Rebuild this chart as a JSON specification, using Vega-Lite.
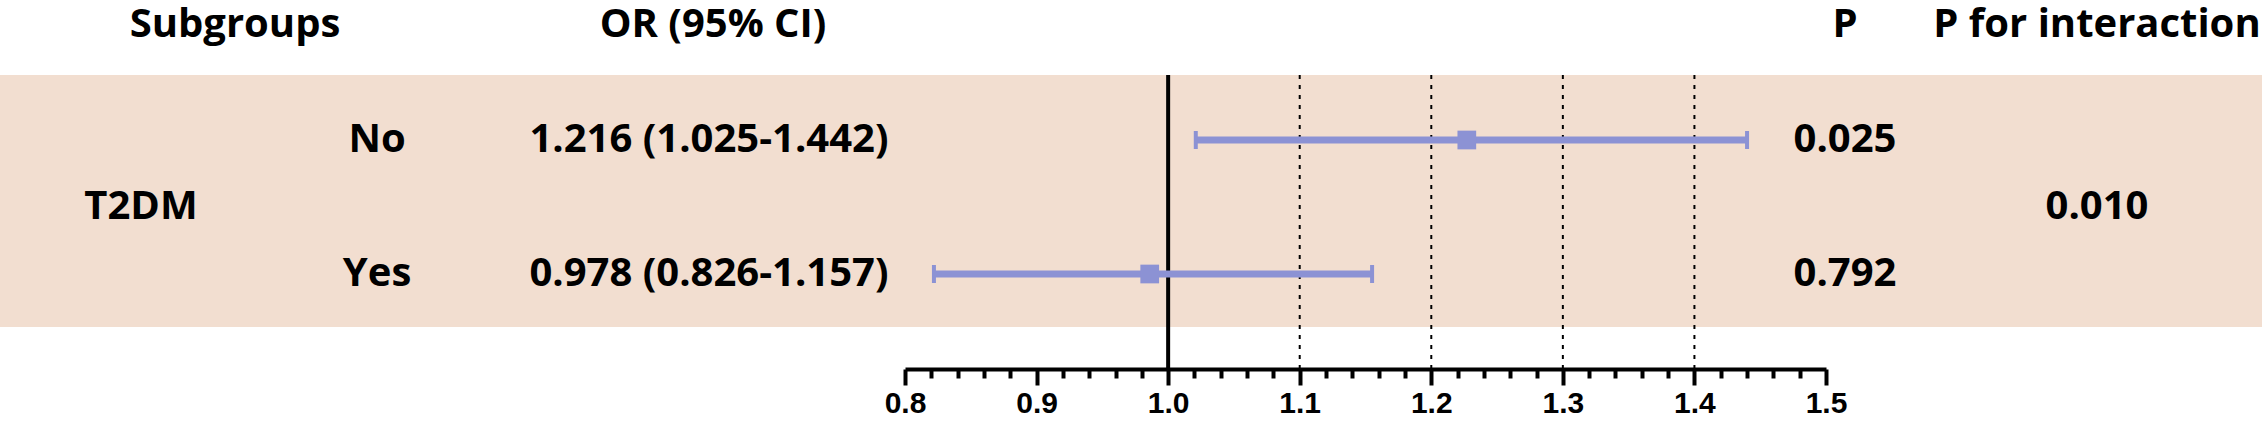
{
  "$schema": "https://vega.github.io/schema/vega-lite/v6.json",
  "padding": 0,
  "bounds": "flush",
  "spacing": 0,
  "background": "white",
  "config": {
    "view": {"stroke": null},
    "text": {"font": "Open Sans", "fontWeight": "bold", "fontSize": 40, "color": "#000000"}
  },
  "datasets": {
    "rows": [
      {"group": "T2DM", "sub": "No", "row": 1, "or_text": "1.216 (1.025-1.442)", "or": 1.227, "lo": 1.021, "hi": 1.44, "p": "0.025", "p_int": "0.010"},
      {"group": "T2DM", "sub": "Yes", "row": 2, "or_text": "0.978 (0.826-1.157)", "or": 0.986, "lo": 0.822, "hi": 1.155, "p": "0.792", "p_int": "0.010"}
    ],
    "headers": [
      {"col": "Subgroups", "level": "subgroups"},
      {"col": "OR (95% CI)", "level": "or"},
      {"col": "P", "level": "p"},
      {"col": "P for interaction", "level": "p_int"}
    ],
    "bands": [{"group": "T2DM", "top": 0.515, "bottom": 2.396}],
    "refs": [
      {"v": 1.0, "kind": "null"},
      {"v": 1.1, "kind": "grid"},
      {"v": 1.2, "kind": "grid"},
      {"v": 1.3, "kind": "grid"},
      {"v": 1.4, "kind": "grid"}
    ]
  },
  "hconcat": [
    {
      "width": 905, "height": 369,
      "resolve": {"scale": {"x": "independent"}},
      "layer": [
        {"data": {"name": "bands"}, "mark": {"type": "rect", "color": "#F2DED0"},
         "encoding": {"y": {"field": "top", "type": "quantitative", "scale": {"domain": [-0.0448, 2.709], "reverse": true, "nice": false, "zero": false}, "axis": null}, "y2": {"field": "bottom"}}},
        {"data": {"name": "headers"}, "transform": [{"filter": "datum.level === 'subgroups' || datum.level === 'or'"}], "mark": {"type": "text", "dy": 19},
         "encoding": {
           "x": {"field": "level", "type": "nominal", "scale": {"type": "point", "domain": ["subgroups", "or"], "padding": 0.4467, "align": 0.5504}, "axis": null},
           "y": {"datum": 0, "type": "quantitative"},
           "text": {"field": "col"}
         }},
        {"data": {"name": "rows"},
         "transform": [
           {"fold": ["group"], "as": ["level", "label"]},
           {"aggregate": [{"op": "mean", "field": "row", "as": "row"}], "groupby": ["level", "label"]}
         ],
         "mark": {"type": "text"},
         "encoding": {
           "x": {"field": "level", "type": "nominal", "scale": {"type": "point", "domain": ["group"], "padding": 0.5, "align": 0.1558}, "axis": null},
           "y": {"field": "row", "type": "quantitative"},
           "text": {"field": "label"}
         }},
        {"data": {"name": "rows"},
         "transform": [{"fold": ["sub"], "as": ["level", "label"]}],
         "mark": {"type": "text"},
         "encoding": {
           "x": {"field": "level", "type": "nominal", "scale": {"type": "point", "domain": ["sub"], "padding": 0.5, "align": 0.4166}, "axis": null},
           "y": {"field": "row", "type": "quantitative"},
           "text": {"field": "label"}
         }},
        {"data": {"name": "rows"},
         "transform": [{"fold": ["or_text"], "as": ["level", "label"]}],
         "mark": {"type": "text"},
         "encoding": {
           "x": {"field": "level", "type": "nominal", "scale": {"type": "point", "domain": ["or_text"], "padding": 0.5, "align": 0.7834}, "axis": null},
           "y": {"field": "row", "type": "quantitative"},
           "text": {"field": "label"}
         }}
      ]
    },
    {
      "width": 921, "height": 369,
      "resolve": {"axis": {"x": "independent"}},
      "layer": [
        {"data": {"name": "bands"}, "mark": {"type": "rect", "color": "#F2DED0"},
         "encoding": {"y": {"field": "top", "type": "quantitative", "scale": {"domain": [-0.0448, 2.709], "reverse": true, "nice": false, "zero": false}, "axis": null}, "y2": {"field": "bottom"}}},
        {"data": {"name": "refs"}, "transform": [{"filter": "datum.kind === 'grid'"}],
         "mark": {"type": "rule", "color": "#000000", "strokeWidth": 2, "strokeDash": [4, 6]},
         "encoding": {
           "x": {"field": "v", "type": "quantitative", "scale": {"domain": [0.8, 1.5], "nice": false, "zero": false},
             "axis": {
               "orient": "bottom",
               "values": [0.8, 0.9, 1.0, 1.1, 1.2, 1.3, 1.4, 1.5], "format": ".1f",
               "title": null, "grid": false,
               "domainColor": "#000000", "domainWidth": 4, "tickColor": "#000000", "tickWidth": 4, "tickSize": 16,
               "labelFont": "Liberation Sans", "labelFontWeight": "bold", "labelFontSize": 30, "labelColor": "#000000",
               "labelPadding": 3, "labelFlush": false, "labelOverlap": false}},
           "y": {"datum": 0.515, "type": "quantitative"},
           "y2": {"datum": 2.709}
         }},
        {"data": {"name": "refs"}, "transform": [{"filter": "datum.kind === 'null'"}],
         "mark": {"type": "rule", "color": "#000000", "strokeWidth": 4},
         "encoding": {
           "x": {"field": "v", "type": "quantitative",
             "axis": {
               "orient": "bottom",
               "values": [0.82, 0.84, 0.86, 0.88, 0.92, 0.94, 0.96, 0.98, 1.02, 1.04, 1.06, 1.08, 1.12, 1.14, 1.16, 1.18, 1.22, 1.24, 1.26, 1.28, 1.32, 1.34, 1.36, 1.38, 1.42, 1.44, 1.46, 1.48],
               "title": null, "grid": false, "domain": false, "labels": false,
               "tickColor": "#000000", "tickWidth": 4, "tickSize": 9}},
           "y": {"datum": 0.515, "type": "quantitative"},
           "y2": {"datum": 2.709}
         }},
        {"data": {"name": "rows"}, "mark": {"type": "rule", "color": "#8C92D4", "strokeWidth": 7},
         "encoding": {"x": {"field": "lo", "type": "quantitative", "axis": null}, "x2": {"field": "hi"}, "y": {"field": "row", "type": "quantitative"}}},
        {"data": {"name": "rows"}, "mark": {"type": "tick", "orient": "vertical", "color": "#8C92D4", "size": 18, "thickness": 4, "opacity": 1},
         "encoding": {"x": {"field": "lo", "type": "quantitative", "axis": null}, "y": {"field": "row", "type": "quantitative"}}},
        {"data": {"name": "rows"}, "mark": {"type": "tick", "orient": "vertical", "color": "#8C92D4", "size": 18, "thickness": 4, "opacity": 1},
         "encoding": {"x": {"field": "hi", "type": "quantitative", "axis": null}, "y": {"field": "row", "type": "quantitative"}}},
        {"data": {"name": "rows"}, "mark": {"type": "point", "shape": "square", "filled": true, "size": 350, "color": "#8C92D4", "opacity": 1},
         "encoding": {"x": {"field": "or", "type": "quantitative", "axis": null}, "y": {"field": "row", "type": "quantitative"}}}
      ]
    },
    {
      "width": 436, "height": 369,
      "layer": [
        {"data": {"name": "bands"}, "mark": {"type": "rect", "color": "#F2DED0"},
         "encoding": {"y": {"field": "top", "type": "quantitative", "scale": {"domain": [-0.0448, 2.709], "reverse": true, "nice": false, "zero": false}, "axis": null}, "y2": {"field": "bottom"}}},
        {"data": {"name": "headers"}, "transform": [{"filter": "datum.level === 'p' || datum.level === 'p_int'"}], "mark": {"type": "text", "dy": 19},
         "encoding": {
           "x": {"field": "level", "type": "nominal", "scale": {"type": "point", "domain": ["p", "p_int"], "padding": 0.3651, "align": 0.1033}, "axis": null},
           "y": {"datum": 0, "type": "quantitative"},
           "text": {"field": "col"}
         }},
        {"data": {"name": "rows"},
         "transform": [
           {"fold": ["p", "p_int"], "as": ["level", "label"]},
           {"aggregate": [{"op": "mean", "field": "row", "as": "row"}], "groupby": ["level", "label"]}
         ],
         "mark": {"type": "text"},
         "encoding": {
           "x": {"field": "level", "type": "nominal"},
           "y": {"field": "row", "type": "quantitative"},
           "text": {"field": "label"}
         }}
      ]
    }
  ]
}
